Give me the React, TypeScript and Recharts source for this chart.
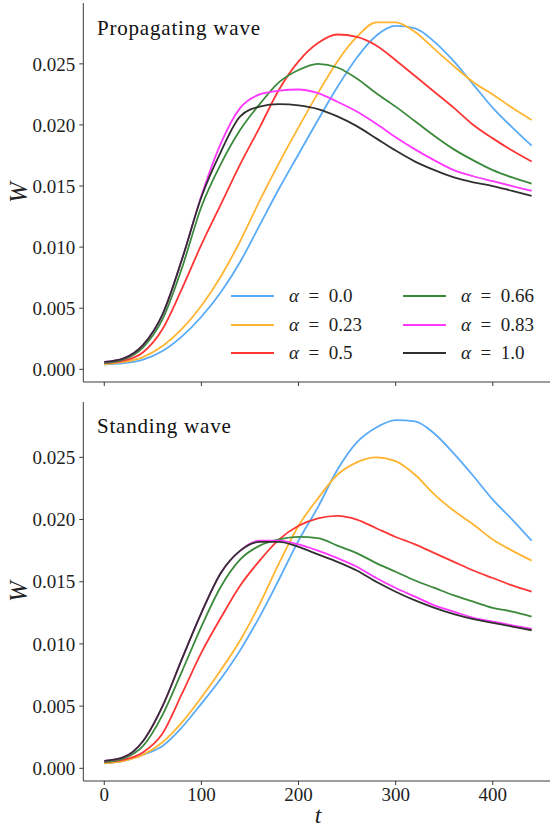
import { LineChart, Line, XAxis, YAxis } from 'recharts';

// time samples shared by both panels
const times = [0, 20, 40, 60, 80, 100, 120, 140, 160, 180, 200, 220, 240, 260, 280, 300, 320, 340, 360, 380, 400, 420, 440];

// propagating wave
const propA00 = [0.0004, 0.0005, 0.0008, 0.0015, 0.0027, 0.0043, 0.0063, 0.0088, 0.0118, 0.0148, 0.0176, 0.0204, 0.0231, 0.0255, 0.0273, 0.0281, 0.0279, 0.0268, 0.0252, 0.0233, 0.0214, 0.0198, 0.0183];
const propA23 = [0.0004, 0.0006, 0.0010, 0.0019, 0.0033, 0.0052, 0.0076, 0.0105, 0.0138, 0.0169, 0.0198, 0.0226, 0.0252, 0.0272, 0.0284, 0.0284, 0.0276, 0.0262, 0.0248, 0.0235, 0.0225, 0.0214, 0.0204];
const propA50 = [0.0005, 0.0007, 0.0014, 0.0033, 0.0066, 0.0102, 0.0135, 0.0168, 0.0198, 0.0229, 0.0252, 0.0267, 0.0274, 0.0272, 0.0265, 0.0253, 0.0240, 0.0227, 0.0214, 0.0200, 0.0189, 0.0179, 0.0170];
const propA66 = [0.0005, 0.0008, 0.0018, 0.0041, 0.0083, 0.0133, 0.0168, 0.0196, 0.0217, 0.0235, 0.0245, 0.0250, 0.0247, 0.0238, 0.0226, 0.0215, 0.0203, 0.0191, 0.0180, 0.0171, 0.0163, 0.0157, 0.0152];
const propA83 = [0.0006, 0.0009, 0.0020, 0.0045, 0.0090, 0.0142, 0.0185, 0.0214, 0.0225, 0.0228, 0.0229, 0.0226, 0.0219, 0.0211, 0.0201, 0.0190, 0.0180, 0.0171, 0.0163, 0.0158, 0.0154, 0.0150, 0.0146];
const propA100 = [0.0006, 0.0009, 0.0020, 0.0045, 0.0090, 0.0141, 0.0178, 0.0207, 0.0215, 0.0217, 0.0216, 0.0213, 0.0207, 0.0199, 0.0189, 0.0179, 0.0170, 0.0163, 0.0157, 0.0153, 0.0150, 0.0146, 0.0142];

// standing wave
const standA00 = [0.0004, 0.0006, 0.0011, 0.0018, 0.0033, 0.0052, 0.0072, 0.0095, 0.0122, 0.0152, 0.0183, 0.0210, 0.0240, 0.0262, 0.0274, 0.0280, 0.0279, 0.0269, 0.0253, 0.0235, 0.0216, 0.0200, 0.0183];
const standA23 = [0.0004, 0.0006, 0.0011, 0.0021, 0.0037, 0.0057, 0.0079, 0.0103, 0.0132, 0.0165, 0.0195, 0.0217, 0.0236, 0.0246, 0.0250, 0.0247, 0.0236, 0.0220, 0.0207, 0.0196, 0.0184, 0.0175, 0.0167];
const standA50 = [0.0005, 0.0007, 0.0013, 0.0028, 0.0060, 0.0093, 0.0121, 0.0147, 0.0167, 0.0184, 0.0195, 0.0201, 0.0203, 0.0200, 0.0193, 0.0186, 0.0180, 0.0173, 0.0166, 0.0159, 0.0153, 0.0147, 0.0142];
const standA66 = [0.0005, 0.0008, 0.0018, 0.0043, 0.0078, 0.0114, 0.0146, 0.0168, 0.0179, 0.0184, 0.0186, 0.0185, 0.0179, 0.0173, 0.0165, 0.0158, 0.0151, 0.0145, 0.0139, 0.0134, 0.0129, 0.0126, 0.0122];
const standA83 = [0.0006, 0.0009, 0.0022, 0.0050, 0.0088, 0.0125, 0.0157, 0.0175, 0.0183, 0.0183, 0.0180, 0.0175, 0.0169, 0.0162, 0.0153, 0.0145, 0.0138, 0.0131, 0.0126, 0.0121, 0.0118, 0.0115, 0.0112];
const standA100 = [0.0006, 0.0009, 0.0022, 0.0050, 0.0088, 0.0125, 0.0157, 0.0175, 0.0182, 0.0182, 0.0178, 0.0172, 0.0166, 0.0159, 0.0150, 0.0142, 0.0135, 0.0129, 0.0124, 0.0120, 0.0117, 0.0114, 0.0111];

const alphaLabels = ['0.0', '0.23', '0.5', '0.66', '0.83', '1.0'];
const seriesKeys = ['a00', 'a23', 'a50', 'a66', 'a83', 'a100'];
const colors = ['#5aabf7', '#ffb531', '#ff3636', '#3b8a3b', '#ff38ff', '#303030'];

const xTicks = [0, 100, 200, 300, 400];
const yTicks = [0, 0.005, 0.01, 0.015, 0.02, 0.025];

const FONT = '"Liberation Serif", "Times New Roman", serif';
const AXIS = '#3a3a3a';

const makeRows = (cols: number[][]) =>
  times.map((t, i) => {
    const row: Record<string, number> = { t };
    seriesKeys.forEach((k, j) => (row[k] = cols[j][i]));
    return row;
  });

const propData = makeRows([propA00, propA23, propA50, propA66, propA83, propA100]);
const standData = makeRows([standA00, standA23, standA50, standA66, standA83, standA100]);

const tickStyle = { fontSize: 19, fill: '#222', fontFamily: FONT };

const yLabel = (props: any) => {
  const vb = props.viewBox || { y: 0, height: 0 };
  const cy = vb.y + vb.height / 2;
  return (
    <text x={18} y={cy} transform={`rotate(-90, 18, ${cy})`} textAnchor="middle" dominantBaseline="central"
      style={{ fontSize: 25, fontStyle: 'italic', fontFamily: FONT, fill: '#222' }}>
      W
    </text>
  );
};

const xLabel = (props: any) => {
  const vb = props.viewBox || { x: 0, y: 0, width: 0 };
  return (
    <text x={vb.x + vb.width / 2} y={vb.y + 42} textAnchor="middle"
      style={{ fontSize: 24, fontStyle: 'italic', fontFamily: FONT, fill: '#222' }}>
      t
    </text>
  );
};

function Panel({ data, height, top, domain, showX }: { data: any[]; height: number; top: number; domain: [number, number]; showX: boolean }) {
  return (
    <LineChart width={553} height={height} data={data} margin={{ top, right: 0, left: 0, bottom: 0 }}>
      <XAxis
        dataKey="t"
        type="number"
        domain={[-21.6, 462]}
        allowDataOverflow
        ticks={xTicks}
        height={showX ? 49 : 10}
        tickSize={4}
        tickMargin={3}
        tick={tickStyle}
        tickFormatter={showX ? (v: number) => String(v) : () => ''}
        stroke={AXIS}
        label={showX ? xLabel : undefined}
      />
      <XAxis xAxisId="top" orientation="top" type="number" domain={[-21.6, 462]} height={0} tick={false} tickLine={false} stroke={AXIS} />
      <YAxis
        type="number"
        domain={domain}
        allowDataOverflow
        ticks={yTicks}
        width={83.3}
        tickSize={4}
        tickMargin={4}
        tick={tickStyle}
        tickFormatter={(v: number) => v.toFixed(3)}
        stroke={AXIS}
        label={yLabel}
      />
      {seriesKeys.map((k, i) => (
        <Line key={k} type="monotone" dataKey={k} stroke={colors[i]} strokeWidth={1.8} dot={false} isAnimationActive={false} />
      ))}
    </LineChart>
  );
}

function LegendBox() {
  return (
    <div style={{ position: 'absolute', left: 231, top: 281.5, display: 'grid', gridTemplateRows: 'repeat(3, 28.7px)', gridTemplateColumns: '172px 150px', gridAutoFlow: 'column', fontFamily: FONT, fontSize: 19, color: '#222' }}>
      {seriesKeys.map((k, i) => (
        <div key={k} style={{ display: 'flex', alignItems: 'center' }}>
          <span style={{ display: 'inline-block', width: 43, height: 2, background: colors[i], marginRight: 15 }} />
          <span style={{ whiteSpace: 'pre' }}>
            <i>α</i>{'\u2002=\u2002'}{alphaLabels[i]}
          </span>
        </div>
      ))}
    </div>
  );
}

export default function App() {
  return (
    <div style={{ position: 'absolute', left: 0, top: 0, width: 550, height: 830, overflow: 'hidden', background: '#fff' }}>
      <div style={{ position: 'absolute', left: 0, top: 0 }}>
        <Panel data={propData} height={392} top={3} domain={[-0.00104, 0.02998]} showX={false} />
      </div>
      <div style={{ position: 'absolute', left: 0, top: 392 }}>
        <Panel data={standData} height={438} top={10} domain={[-0.00102, 0.02945]} showX={true} />
      </div>
      <div style={{ position: 'absolute', left: 97, top: 18, fontFamily: FONT, fontSize: 21, letterSpacing: 0.8, lineHeight: '21px', color: '#111' }}>
        Propagating wave
      </div>
      <div style={{ position: 'absolute', left: 97, top: 416, fontFamily: FONT, fontSize: 21, letterSpacing: 0.8, lineHeight: '21px', color: '#111' }}>
        Standing wave
      </div>
      <LegendBox />
    </div>
  );
}
